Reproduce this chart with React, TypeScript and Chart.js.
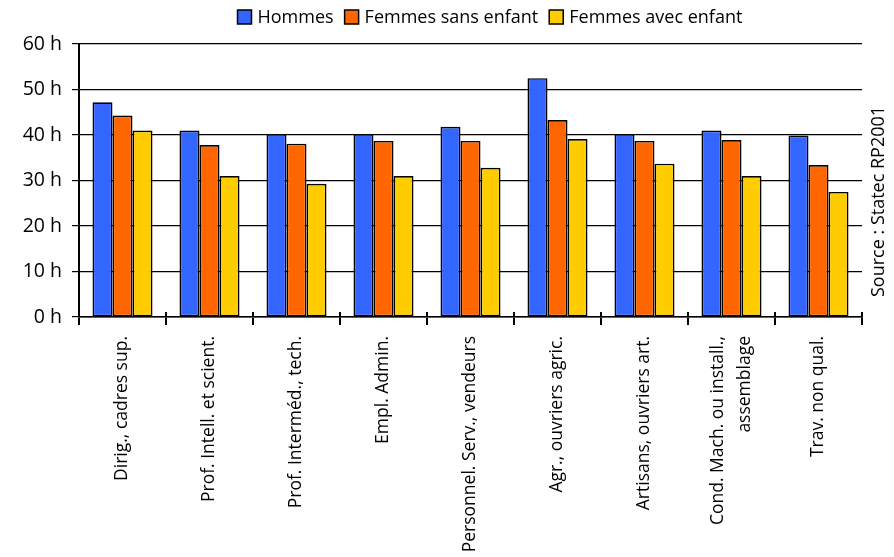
import React, { useEffect, useRef } from 'react';
import { Chart, registerables } from 'chart.js';

Chart.register(...registerables);

const categories: (string | string[])[] = [
  'Dirig., cadres sup.',
  'Prof. Intell. et scient.',
  'Prof. Interméd., tech.',
  'Empl. Admin.',
  'Personnel. Serv., vendeurs',
  'Agr., ouvriers agric.',
  'Artisans, ouvriers art.',
  ['Cond. Mach. ou install.,', 'assemblage'],
  'Trav. non qual.',
];
const seriesNames = ['Hommes', 'Femmes sans enfant', 'Femmes avec enfant'];
const seriesColors = ['#3366FF', '#FF6600', '#FFCC00'];
const hommes = [47.2, 41.0, 40.2, 40.2, 41.8, 52.5, 40.2, 41.0, 39.9];
const femmesSansEnfant = [44.3, 37.8, 38.1, 38.7, 38.7, 43.3, 38.7, 38.9, 33.4];
const femmesAvecEnfant = [41.0, 31.0, 29.3, 31.0, 32.8, 39.1, 33.7, 31.0, 27.5];
const yMin = 0;
const yMax = 60;
const yStep = 10;
const yUnit = ' h';
const sourceText = 'Source : Statec RP2001';

const FONT = '"Open Sans", "Noto Sans", sans-serif';

const customText = {
  id: 'customText',
  afterDraw(chart: any) {
    const ctx = chart.ctx as CanvasRenderingContext2D;
    const xScale = chart.scales.x;
    const area = chart.chartArea;

    // tick marks crossing the x axis (upper part)
    ctx.save();
    ctx.strokeStyle = '#000';
    ctx.lineWidth = 2;
    const n = (chart.data.labels as any[]).length;
    for (let i = 0; i <= n; i++) {
      const x = Math.round(xScale.getPixelForValue(i - 0.5));
      ctx.beginPath();
      ctx.moveTo(x, area.bottom - 5);
      ctx.lineTo(x, area.bottom);
      ctx.stroke();
    }
    ctx.restore();

    // x category labels, rotated
    ctx.save();
    ctx.fillStyle = '#000';
    ctx.font = `17.5px ${FONT}`;
    const labels = chart.data.labels as (string | string[])[];
    const lineH = 27;
    labels.forEach((lab, i) => {
      const lines = Array.isArray(lab) ? lab : [lab];
      const x = xScale.getPixelForValue(i);
      ctx.save();
      ctx.translate(x, 336);
      ctx.rotate(-Math.PI / 2);
      ctx.textAlign = 'right';
      ctx.textBaseline = 'middle';
      lines.forEach((ln, j) => {
        const off = (j - (lines.length - 1) / 2) * lineH;
        ctx.fillText(ln, 0, off);
      });
      ctx.restore();
    });
    ctx.restore();

    // legend
    ctx.save();
    ctx.font = `18px ${FONT}`;
    ctx.textBaseline = 'middle';
    ctx.textAlign = 'left';
    let lx = 237.5;
    const ly = 17;
    const box = 14;
    chart.data.datasets.forEach((ds: any) => {
      ctx.fillStyle = ds.backgroundColor;
      ctx.fillRect(lx, ly - box / 2, box, box);
      ctx.strokeStyle = '#000';
      ctx.lineWidth = 1.5;
      ctx.strokeRect(lx, ly - box / 2, box, box);
      ctx.fillStyle = '#000';
      ctx.fillText(ds.label, lx + box + 6, ly + 1);
      lx += box + 6 + ctx.measureText(ds.label).width + 11;
    });
    ctx.restore();

    // source
    ctx.save();
    ctx.font = `18px ${FONT}`;
    ctx.fillStyle = '#000';
    ctx.translate(879, 297);
    ctx.rotate(-Math.PI / 2);
    ctx.textAlign = 'left';
    ctx.textBaseline = 'middle';
    ctx.fillText(sourceText, 0, 0);
    ctx.restore();
  },
};

export default function App() {
  const ref = useRef<HTMLCanvasElement>(null);
  useEffect(() => {
    if (!ref.current) return;
    Chart.defaults.color = '#000';
    Chart.defaults.font.family = FONT;
    const seriesData = [hommes, femmesSansEnfant, femmesAvecEnfant];
    const chart = new Chart(ref.current, {
      type: 'bar',
      data: {
        labels: categories as any,
        datasets: seriesNames.map((name, k) => ({
          label: name,
          data: seriesData[k],
          backgroundColor: seriesColors[k],
          borderColor: '#000',
          borderWidth: 1.7,
          borderSkipped: false,
          barPercentage: 1,
          categoryPercentage: 0.69,
        })),
      },
      options: {
        responsive: false,
        animation: false,
        layout: { padding: { top: 44, left: 0, right: 32, bottom: 0 } },
        plugins: {
          legend: { display: false },
          tooltip: { enabled: false },
        },
        scales: {
          x: {
            ticks: { display: false },
            grid: {
              display: true,
              drawOnChartArea: false,
              drawTicks: true,
              tickLength: 8,
              offset: true,
              color: '#000',
              lineWidth: 2,
            },
            border: { display: true, color: '#000', width: 1.5 },
            afterFit: (s: any) => {
              s.height = 240;
            },
          },
          y: {
            min: yMin,
            max: yMax,
            ticks: {
              stepSize: yStep,
              padding: 10,
              font: { size: 19.5 },
              color: '#000',
              callback: (v: any) => `${v}${yUnit}`,
            },
            grid: {
              color: '#000',
              lineWidth: 1.2,
              tickLength: 7,
            },
            border: { display: true, color: '#000', width: 2 },
            afterFit: (s: any) => {
              s.width = 79;
            },
          },
        },
      },
      plugins: [customText],
    });
    return () => chart.destroy();
  }, []);
  return (
    <div style={{ position: 'absolute', left: 0, top: 0, width: 894, height: 557, background: '#fff' }}>
      <canvas ref={ref} width={894} height={557} />
    </div>
  );
}
